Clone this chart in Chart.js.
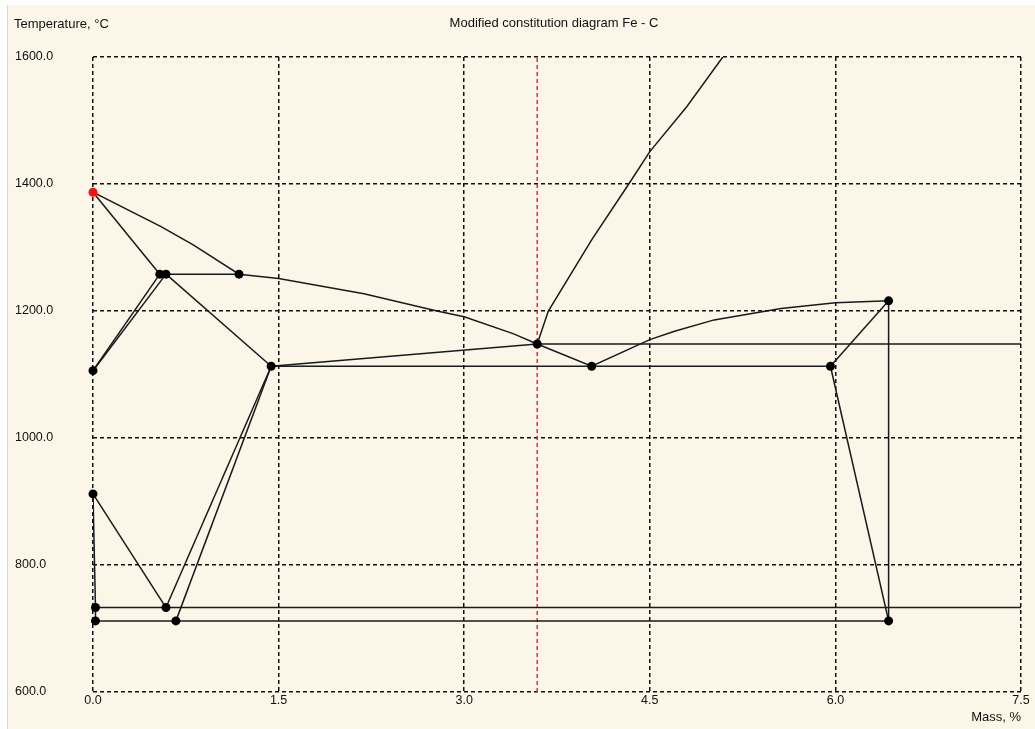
<!DOCTYPE html>
<html>
<head>
<meta charset="utf-8">
<script src="https://cdn.jsdelivr.net/npm/chart.js@4/dist/chart.umd.min.js"></script>
<style>
  html, body { margin: 0; padding: 0; background: #ffffff; width: 1035px; height: 729px; overflow: hidden; }
  #panel { position: absolute; left: 7px; top: 5px; width: 1028px; height: 724px; background: #fbf6e7; border-left: 1px solid #d8d8d8; box-sizing: border-box; }
  #c { position: absolute; left: 0; top: 0; }
</style>
</head>
<body>
<div id="panel"></div>
<canvas id="c" width="1035" height="729"></canvas>
<script>
// ---- data (mass % C, temperature °C) ----
const xTicks = [0.0, 1.5, 3.0, 4.5, 6.0, 7.5];
const yTicks = [600, 800, 1000, 1200, 1400, 1600];
const chartTitle = 'Modified constitution diagram Fe - C';
const yAxisLabel = 'Temperature, °C';
const xAxisLabel = 'Mass, %';

const redNode = [[0, 1387]];
const blackNodes = [
  [0.54, 1258], [0.59, 1258], [1.18, 1258], [0, 1106], [1.44, 1113],
  [3.59, 1148], [4.03, 1113], [5.96, 1113], [6.43, 1216], [6.43, 712],
  [0, 912], [0.02, 733], [0.02, 712], [0.59, 733], [0.67, 712]
];

const peritecticLeft = [[0, 1387], [0.54, 1258]];
const liquidusLeft = [[0, 1387], [0.55, 1333], [0.81, 1304], [1.18, 1258], [1.5, 1251], [2.19, 1227], [2.78, 1200], [3.0, 1191], [3.4, 1164], [3.59, 1148]];
const peritecticLine = [[0.54, 1258], [1.18, 1258]];
const deltaSolvusA = [[0, 1106], [0.54, 1258]];
const deltaSolvusB = [[0, 1106], [0.59, 1258]];
const solidusAustenite = [[0.59, 1258], [1.44, 1113]];
const eutecticLine = [[1.44, 1113], [5.96, 1113]];
const eutecticRise = [[1.44, 1113], [3.59, 1148]];
const graphiteEutectic = [[3.59, 1148], [7.5, 1148]];
const liquidusRight = [[3.59, 1148], [4.03, 1113], [4.5, 1155], [4.7, 1168], [5.02, 1186], [5.56, 1204], [6.0, 1213], [6.43, 1216]];
const graphiteLiquidus = [[3.59, 1148], [3.68, 1200], [4.03, 1312], [4.33, 1400], [4.5, 1451], [4.8, 1522], [5.09, 1600]];
const cementiteUpper = [[5.96, 1113], [6.43, 1216]];
const cementiteLower = [[5.96, 1113], [6.43, 712]];
const cementiteLine = [[6.43, 1216], [6.43, 712]];
const ferriteLeft = [[0, 912], [0.02, 733], [0.02, 712]];
const a3Line = [[0, 912], [0.59, 733]];
const acmLineA = [[0.59, 733], [1.44, 1113]];
const acmLineB = [[0.67, 712], [1.44, 1113]];
const stableEutectoid = [[0.02, 733], [7.5, 733]];
const eutectoidLine = [[0.02, 712], [6.43, 712]];
const markerLine = [[3.59, 600], [3.59, 1600]];

// ---- helpers ----
const toPts = arr => arr.map(p => ({ x: p[0], y: p[1] }));
const lineSets = [peritecticLeft, liquidusLeft, peritecticLine, deltaSolvusA, deltaSolvusB,
  solidusAustenite, eutecticLine, eutecticRise, graphiteEutectic, liquidusRight, graphiteLiquidus,
  cementiteUpper, cementiteLower, cementiteLine, ferriteLeft, a3Line, acmLineA, acmLineB,
  stableEutectoid, eutectoidLine];

const FONT = "'Liberation Sans', Arial, sans-serif";
const datasets = [
  { data: toPts(redNode), showLine: false, pointRadius: 4.5, pointBackgroundColor: '#ff1010', pointBorderWidth: 0, clip: false, order: 0 },
  { data: toPts(blackNodes), showLine: false, pointRadius: 4.5, pointBackgroundColor: '#000000', pointBorderWidth: 0, clip: false, order: 1 }
];
lineSets.forEach(ls => datasets.push({
  data: toPts(ls), showLine: true, pointRadius: 0, borderColor: '#1a1a1a', borderWidth: 1.5, tension: 0, order: 5
}));
datasets.push({ data: toPts(markerLine), showLine: true, pointRadius: 0, borderColor: '#ee1c2c', borderWidth: 1.4, borderDash: [4, 3], order: 6 });

const textPlugin = {
  id: 'texts',
  afterDraw(chart) {
    const ctx = chart.ctx;
    ctx.save();
    ctx.fillStyle = '#111';
    ctx.font = '13px ' + FONT;
    ctx.textBaseline = 'middle';
    ctx.textAlign = 'left';
    ctx.fillText(yAxisLabel, 14, 24);
    ctx.textAlign = 'center';
    ctx.fillText(chartTitle, 554, 23);
    ctx.restore();
  }
};

new Chart(document.getElementById('c'), {
  type: 'scatter',
  data: { datasets },
  plugins: [textPlugin],
  options: {
    responsive: false,
    animation: false,
    layout: { padding: { left: 15, top: 57, right: 14, bottom: 0 } },
    plugins: { legend: { display: false }, tooltip: { enabled: false }, title: { display: false } },
    scales: {
      x: {
        type: 'linear', min: 0, max: 7.5,
        afterBuildTicks: s => { s.ticks = xTicks.map(v => ({ value: v })); },
        afterFit: s => { s.height = 37; },
        grid: { color: '#111', lineWidth: 1.5, drawTicks: false },
        border: { display: false, dash: [4, 3] },
        ticks: { padding: 1, color: '#111', font: { size: 12.5, family: FONT }, callback: v => Number(v).toFixed(1), maxRotation: 0 },
        title: { display: true, text: xAxisLabel, align: 'end', color: '#111', font: { size: 13, family: FONT }, padding: { top: 0, bottom: 4 } }
      },
      y: {
        type: 'linear', min: 600, max: 1600,
        afterBuildTicks: s => { s.ticks = yTicks.map(v => ({ value: v })); },
        afterFit: s => { s.width = 78; },
        grid: { color: '#111', lineWidth: 1.5, drawTicks: false },
        border: { display: false, dash: [4, 3] },
        ticks: { crossAlign: 'far', padding: 0, color: '#111', font: { size: 12.5, family: FONT }, callback: v => Number(v).toFixed(1) }
      }
    }
  }
});
</script>
</body>
</html>
